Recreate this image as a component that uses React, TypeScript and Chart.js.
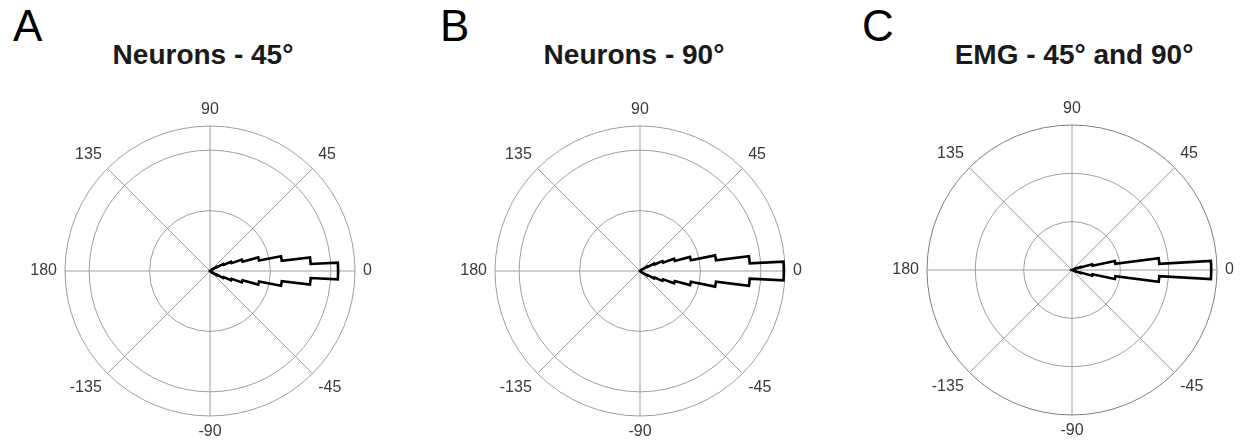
import { useEffect, useRef } from "react";
import { Chart, registerables } from "chart.js";

Chart.register(...registerables);

const FONT = '"Liberation Sans", Arial, Helvetica, sans-serif';

// Angular histograms: 4° bins, heights listed from the bin touching 0° outward.
// Each distribution is mirrored on both sides of 0°.
const BIN_WIDTH_DEG = 4;
const neurons45Bins = [1.06, 0.835, 0.6, 0.415, 0.28, 0.19, 0.125, 0.066, 0.033, 0.015];
const neurons90Bins = [1.19, 0.91, 0.635, 0.43, 0.3, 0.203, 0.132, 0.074, 0.035, 0.015];
const emgBins = [1.44, 0.905, 0.453, 0.216, 0.093, 0.035];

// Radial axis limits and ring spacing per panel
const radialMax = [1.2, 1.2, 1.5];
const radialStep = [0.5, 0.5, 0.5];

// Angle tick labels around each dial
const angleTickValues = [0, 45, 90, 135, 180, -135, -90, -45];
const angleTickLabels = ["0", "45", "90", "135", "180", "-135", "-90", "-45"];

const panelLetters = ["A", "B", "C"];
const panelTitles = ["Neurons - 45°", "Neurons - 90°", "EMG - 45° and 90°"];
const panelBins = [neurons45Bins, neurons90Bins, emgBins];

// Angular resolution of the outline (labels of the radial scale)
const SAMPLE_STEP_DEG = 0.25;
const sampleAngles: number[] = Array.from({ length: 360 / SAMPLE_STEP_DEG }, (_, k) => {
  const a = -k * SAMPLE_STEP_DEG;
  return a <= -180 ? a + 360 : a;
});

// Stairs outline: every sample angle takes the height of the bin it falls in
function stairsFromBins(bins: number[]): number[] {
  return sampleAngles.map((a) => {
    const idx = Math.floor(Math.abs(a) / BIN_WIDTH_DEG);
    return idx < bins.length ? bins[idx] : 0;
  });
}

const RADIUS = 145;
const PAD_X = 50;
const PAD_Y = 30;
const CANVAS_W = RADIUS * 2 + PAD_X * 2;
const CANVAS_H = RADIUS * 2 + PAD_Y * 2;

// page layout for each panel
const panelLayout = [
  { cx: 210, cy: 271, titleX: 203, letterX: 13 },
  { cx: 640, cy: 271, titleX: 634, letterX: 440 },
  { cx: 1072, cy: 270, titleX: 1074, letterX: 862 },
];

const GRID = "#9e9e9e";
const LABEL_PAD = 8;
const LABEL_H = 16;

const angleLabelPlugin = {
  id: "angleLabels",
  afterDraw(chart: any) {
    const scale = chart.scales.r;
    const ctx = chart.ctx;
    const n = sampleAngles.length;
    ctx.save();
    ctx.font = `16px ${FONT}`;
    ctx.fillStyle = "#3a3a3a";
    ctx.textBaseline = "middle";
    angleTickValues.forEach((deg, i) => {
      const idx = Math.round((((360 - deg) % 360) + 360) % 360 / SAMPLE_STEP_DEG) % n;
      const p = scale.getPointPosition(idx, scale.drawingArea + LABEL_PAD);
      const cw = (((90 - deg) % 360) + 360) % 360;
      let align: CanvasTextAlign = "center";
      if (cw !== 0 && cw !== 180) align = cw < 180 ? "left" : "right";
      let y = p.y;
      if (cw === 90 || cw === 270) y = p.y;
      else if (cw > 270 || cw < 90) y = p.y - LABEL_H / 2;
      else y = p.y + LABEL_H / 2;
      ctx.textAlign = align;
      ctx.fillText(angleTickLabels[i], p.x, y);
    });
    ctx.restore();
  },
};

function RoseChart({ panel }: { panel: number }) {
  const ref = useRef<HTMLCanvasElement | null>(null);
  useEffect(() => {
    if (!ref.current) return;
    const isEmg = panel === 2;
    const chart = new Chart(ref.current, {
      type: "radar",
      data: {
        labels: sampleAngles.map((a) => String(a)),
        datasets: [
          {
            data: stairsFromBins(panelBins[panel]),
            borderColor: "#000000",
            borderWidth: 2.6,
            fill: false,
            pointRadius: 0,
            pointHoverRadius: 0,
            tension: 0,
            borderJoinStyle: "miter",
          } as any,
        ],
      },
      options: {
        responsive: false,
        animation: false,
        events: [],
        layout: { padding: { left: PAD_X, right: PAD_X, top: PAD_Y, bottom: PAD_Y } },
        plugins: { legend: { display: false }, tooltip: { enabled: false } },
        scales: {
          r: {
            min: 0,
            max: radialMax[panel],
            startAngle: 90,
            ticks: { display: false, stepSize: radialStep[panel] },
            grid: {
              circular: true,
              lineWidth: 1,
              color: (c: any) =>
                isEmg && c.index === c.scale.ticks.length - 1 ? "#7f7f7f" : GRID,
            },
            angleLines: {
              display: true,
              color: GRID,
              lineWidth: (c: any) =>
                Math.abs((c.index * SAMPLE_STEP_DEG) % 45) < 1e-9 ? 1 : 0,
            },
            pointLabels: { display: false },
          },
        },
      },
      plugins: [angleLabelPlugin],
    });
    return () => chart.destroy();
  }, [panel]);

  const L = panelLayout[panel];
  return (
    <canvas
      ref={ref}
      width={CANVAS_W}
      height={CANVAS_H}
      style={{
        position: "absolute",
        left: L.cx - PAD_X - RADIUS,
        top: L.cy - PAD_Y - RADIUS,
        width: CANVAS_W,
        height: CANVAS_H,
        display: "block",
      }}
    />
  );
}

export default function App() {
  return (
    <div
      style={{
        position: "absolute",
        left: 0,
        top: 0,
        width: 1242,
        height: 444,
        overflow: "hidden",
        background: "#ffffff",
        fontFamily: FONT,
      }}
    >
      {panelLayout.map((L, i) => (
        <div key={i}>
          <div
            style={{
              position: "absolute",
              left: L.letterX,
              top: 4,
              fontSize: 44,
              lineHeight: "44px",
              color: "#000",
            }}
          >
            {panelLetters[i]}
          </div>
          <div
            style={{
              position: "absolute",
              left: L.titleX - 200,
              width: 400,
              top: 41,
              textAlign: "center",
              fontSize: 28,
              lineHeight: "28px",
              fontWeight: "bold",
              color: "#1a1a1a",
            }}
          >
            {panelTitles[i]}
          </div>
          <RoseChart panel={i} />
        </div>
      ))}
    </div>
  );
}
